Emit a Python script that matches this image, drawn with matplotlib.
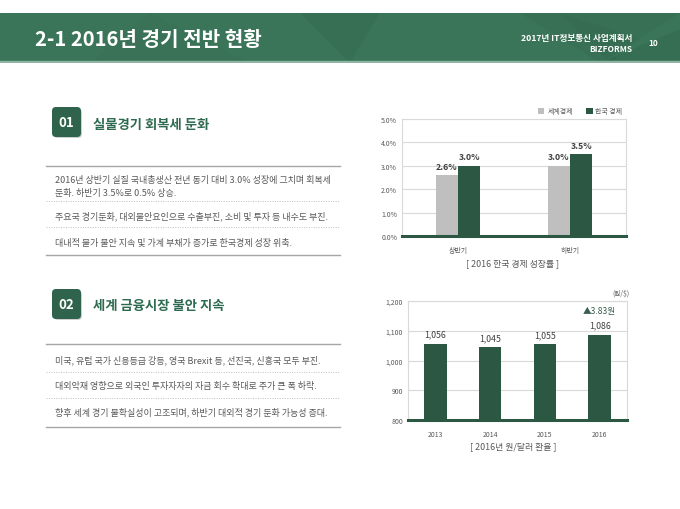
import matplotlib
matplotlib.use("Agg")
import matplotlib.pyplot as plt
from matplotlib.patches import FancyBboxPatch, Rectangle, Polygon
from matplotlib.ticker import FuncFormatter, MultipleLocator

plt.rcParams["font.family"] = ["Noto Sans CJK KR", "DejaVu Sans"]

# --- data ---------------------------------------------------------------
growth_periods = ["상반기", "하반기"]
world_growth = [2.6, 3.0]
korea_growth = [3.0, 3.5]

fx_years = ["2013", "2014", "2015", "2016"]
fx_rates = [1056, 1045, 1055, 1086]

section1_lines = [
    "2016년 상반기 실질 국내총생산 전년 동기 대비 3.0% 성장에 그치며 회복세",
    "둔화. 하반기 3.5%로 0.5% 상승.",
    "주요국 경기둔화, 대외불안요인으로 수출부진, 소비 및 투자 등 내수도 부진.",
    "대내적 물가 불안 지속 및 가계 부채가 증가로 한국경제 성장 위축.",
]
section2_lines = [
    "미국, 유럽 국가 신용등급 강등, 영국 Brexit 등, 선진국, 신흥국 모두 부진.",
    "대외악재 영향으로 외국인 투자자자의 자금 회수 확대로 주가 큰 폭 하락.",
    "향후 세계 경기 불확실성이 고조되며, 하반기 대외적 경기 둔화 가능성 증대.",
]

GREEN = "#2c5843"
GRAY = "#bfbfbf"
TXT = "#595959"
W, H = 680, 510


def px(x, y):
    return x / W, 1 - y / H


fig = plt.figure(figsize=(6.8, 5.1), dpi=100)
fig.patch.set_facecolor("white")

# --- header ---------------------------------------------------------------
hdr = fig.add_axes([0, 1 - 64 / H, 1, 50 / H])
hdr.set_xlim(0, W)
hdr.set_ylim(64, 14)
hdr.axis("off")
hdr.add_patch(Rectangle((0, 14), W, 50, color="#3b7559", zorder=0))
facets = [
    [(300, 14), (350, 64), (380, 14)],
    [(520, 14), (600, 64), (680, 14)],
    [(600, 64), (680, 30), (680, 64)],
    [(560, 14), (640, 40), (610, 64)],
    [(150, 14), (250, 64), (90, 64)],
]
for pts, a in zip(facets, [0.12, 0.10, 0.15, 0.08, 0.05]):
    hdr.add_patch(Polygon(pts, closed=True, color="#1f4a36", alpha=a, lw=0, zorder=1))
hdr.add_patch(Rectangle((0, 62), W, 2, color="#8fb5a2", zorder=2))

fig.text(*px(35, 40), "2-1 2016년 경기 전반 현황", color="white",
         fontsize=14.5, fontweight="bold", va="center", ha="left")
fig.text(*px(632, 38), "2017년 IT정보통신 사업계획서", color="white",
         fontsize=6.2, fontweight="bold", va="center", ha="right")
fig.text(*px(632, 50), "BIZFORMS", color="white",
         fontsize=6.0, fontweight="bold", va="center", ha="right")
fig.text(*px(653, 43), "10", color="white",
         fontsize=6.0, fontweight="bold", va="center", ha="center")

# --- left text sections ---------------------------------------------------
deco = fig.add_axes([0, 0, 1, 1], zorder=-1)
deco.set_xlim(0, W)
deco.set_ylim(H, 0)
deco.axis("off")


def section(num, title, box_top, title_y, lines, line_ys, text_ys):
    deco.add_patch(FancyBboxPatch((54, box_top + 2), 28, 29,
                                  boxstyle="round,pad=0,rounding_size=4",
                                  color="#cfcfcf", lw=0))
    deco.add_patch(FancyBboxPatch((52, box_top), 29, 30,
                                  boxstyle="round,pad=0,rounding_size=4",
                                  color="#2f634b", lw=0))
    deco.text(66.5, box_top + 15, num, color="white", fontsize=9.5,
              fontweight="bold", ha="center", va="center")
    deco.text(93, title_y, title, color="#2e6a4f", fontsize=9.6,
              fontweight="bold", ha="left", va="center")
    for i, yy in enumerate(line_ys):
        if i in (0, len(line_ys) - 1):
            deco.plot([46, 340], [yy, yy], color="#a6a6a6", lw=1.0)
        else:
            deco.plot([46, 340], [yy, yy], color="#bfbfbf", lw=0.7, ls=(0, (1, 1.5)))
    for txt, yy in zip(lines, text_ys):
        deco.text(55, yy, txt, color=TXT, fontsize=6.5, ha="left", va="center")


section("01", "실물경기 회복세 둔화", 108, 125, section1_lines,
        [166.5, 201.5, 228, 256], [181, 194, 216.5, 243])
section("02", "세계 금융시장 불안 지속", 290, 306.5, section2_lines,
        [345, 372.5, 399, 427.5], [360.5, 386, 412.5])


# --- charts ---------------------------------------------------------------
def style_axes(ax):
    ax.set_facecolor("white")
    for s in ("top", "left", "right"):
        ax.spines[s].set_color("#d9d9d9")
        ax.spines[s].set_linewidth(0.8)
    ax.spines["bottom"].set_color(GREEN)
    ax.spines["bottom"].set_linewidth(2.2)
    ax.spines["bottom"].set_zorder(5)
    ax.grid(axis="y", color="#d9d9d9", lw=0.8)
    ax.set_axisbelow(True)
    ax.tick_params(length=0, labelsize=5, labelcolor=TXT)
    ax.tick_params(axis="x", pad=7)


# chart 1: growth rate
ax1 = fig.add_axes([402 / W, 1 - 237 / H, 224 / W, 117 / H])
style_axes(ax1)
xs = range(len(growth_periods))
bw = 0.2
b_w = ax1.bar([x - bw / 2 for x in xs], world_growth, width=bw, color=GRAY, zorder=3)
b_k = ax1.bar([x + bw / 2 for x in xs], korea_growth, width=bw, color=GREEN, zorder=3)
ax1.set_xlim(-0.5, len(growth_periods) - 0.5)
ax1.set_ylim(0, 5)
ax1.yaxis.set_major_locator(MultipleLocator(1))
ax1.yaxis.set_major_formatter(FuncFormatter(lambda v, p: f"{v:.1f}%"))
ax1.set_xticks(list(xs))
ax1.set_xticklabels(growth_periods)
for bars, vals in ((b_w, world_growth), (b_k, korea_growth)):
    for b, v in zip(bars, vals):
        ax1.annotate(f"{v:.1f}%", (b.get_x() + b.get_width() / 2, v),
                     xytext=(0, 6.5), textcoords="offset points",
                     ha="center", va="center", fontsize=6.3,
                     fontweight="bold", color="#404040")

deco.add_patch(Rectangle((537.5, 108.5), 6.5, 6.5, color=GRAY, lw=0))
deco.text(548, 111.7, "세계경제", fontsize=5, color=TXT, va="center")
deco.add_patch(Rectangle((586, 108.5), 6.5, 6.5, color=GREEN, lw=0))
deco.text(595, 111.7, "한국 경제", fontsize=5, color=TXT, va="center")
deco.text(513, 264, "[ 2016 한국 경제 성장률 ]", fontsize=6.4, color=TXT,
          ha="center", va="center")

# chart 2: KRW/USD
ax2 = fig.add_axes([408 / W, 1 - 421 / H, 219 / W, 119 / H])
style_axes(ax2)
xs2 = range(len(fx_years))
bars2 = ax2.bar(list(xs2), fx_rates, width=0.41, color=GREEN, zorder=3)
ax2.set_xlim(-0.5, len(fx_years) - 0.5)
ax2.set_ylim(800, 1200)
ax2.yaxis.set_major_locator(MultipleLocator(100))
ax2.yaxis.set_major_formatter(FuncFormatter(lambda v, p: f"{v:,.0f}"))
ax2.set_xticks(list(xs2))
ax2.set_xticklabels(fx_years)
for b, v in zip(bars2, fx_rates):
    ax2.annotate(f"{v:,}", (b.get_x() + b.get_width() / 2, v),
                 xytext=(0, 7), textcoords="offset points",
                 ha="center", va="center", fontsize=6.3, color="#404040")
last = bars2[-1]
ax2.annotate("▲3.83원", (last.get_x() + last.get_width() / 2, fx_rates[-1]),
             xytext=(0, 17.5), textcoords="offset points",
             ha="center", va="center", fontsize=6.2, color="#3a5f4d")
deco.text(621, 294, "(원/$)", fontsize=4.8, color=TXT, ha="center", va="center")
deco.text(513, 446.5, "[ 2016년 원/달러 환율 ]", fontsize=6.4, color=TXT,
          ha="center", va="center")

fig.savefig("out.png", dpi=100)
